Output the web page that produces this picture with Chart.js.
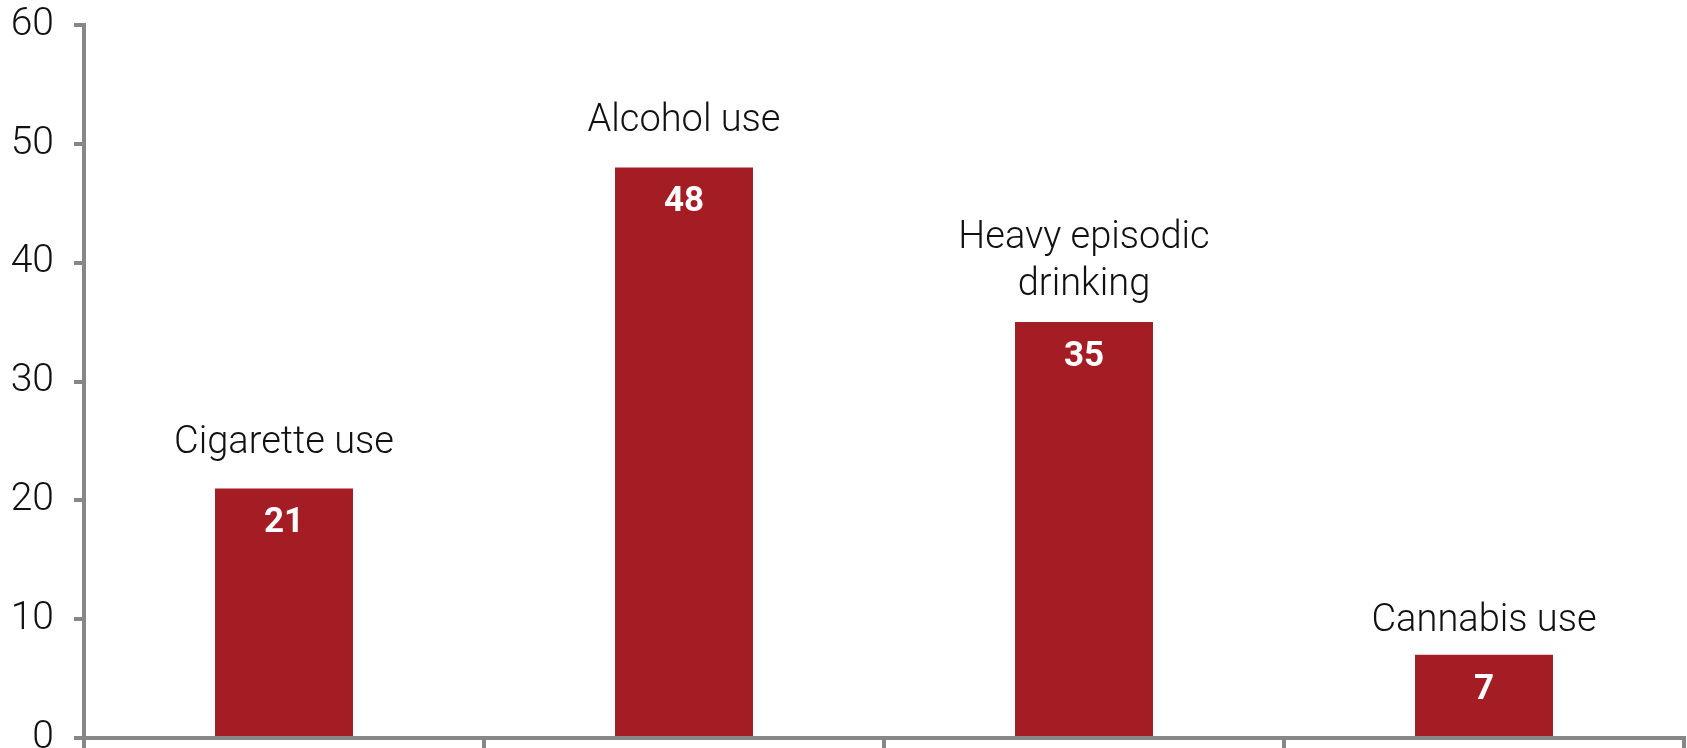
<!DOCTYPE html>
<html>
<head>
<meta charset="utf-8">
<script src="https://cdn.jsdelivr.net/npm/chart.js@4"></script>
<style>
	html, body { margin: 0; padding: 0; background: #fff; overflow: hidden; }
	.chart-wrapper { width: 1687px; height: 748px; }
</style>
</head>
<body>
<div class="chart-wrapper">
	<canvas id="chart"></canvas>
</div>
<script>
const categories = ["Cigarette use", "Alcohol use", ["Heavy episodic", "drinking"], "Cannabis use"];
const shares = [21, 48, 35, 7];
const yTicks = [0, 10, 20, 30, 40, 50, 60];

const barColor = "#a51d24";
const axisColor = "#878787";

// name above each bar, value in white near the top of the bar
const barLabels = {
	id: "barLabels",
	afterDatasetsDraw(chart, args, opts) {
		const ctx = chart.ctx;
		const meta = chart.getDatasetMeta(0);
		meta.data.forEach((bar, i) => {
			const name = [].concat(categories[i]);
			ctx.save();
			ctx.textAlign = "center";
			ctx.textBaseline = "alphabetic";
			ctx.fillStyle = "#111";
			ctx.font = "300 38px Roboto";
			let base = bar.y - opts.gaps[i];
			for (let l = name.length - 1; l >= 0; l--) {
				ctx.fillText(name[l], bar.x, base);
				base -= 47;
			}
			ctx.fillStyle = "#fff";
			ctx.font = "bold 35px Roboto";
			ctx.textBaseline = "middle";
			ctx.fillText(shares[i], bar.x, bar.y + 35);
			ctx.restore();
		});
	},
};

const ctx = document.getElementById("chart").getContext("2d");
const myChart = new Chart(ctx, {
	type: "bar",
	data: {
		labels: categories,
		datasets: [
			{
				data: shares,
				backgroundColor: barColor,
				borderWidth: 0,
				barPercentage: 0.345,
				categoryPercentage: 1,
			},
		],
	},
	options: {
		responsive: true,
		maintainAspectRatio: false,
		animation: false,
		layout: { padding: { top: 25, left: 0, right: 3 } },
		plugins: {
			legend: { display: false },
			tooltip: { enabled: false },
			barLabels: { gaps: [35, 37, 27, 24] },
		},
		scales: {
			x: {
				ticks: { display: false },
				grid: {
					offset: true,
					drawOnChartArea: false,
					drawTicks: true,
					tickLength: 10,
					color: axisColor,
					lineWidth: 4,
				},
				border: { display: true, color: axisColor, width: 4 },
			},
			y: {
				min: 0,
				max: 60,
				afterBuildTicks: (scale) => {
					scale.ticks = yTicks.map((v) => ({ value: v }));
				},
				// labels at 0 and 60 may run past the canvas edge
				afterFit: (scale) => {
					scale.width = 84;
					scale.paddingTop = 0;
					scale.paddingBottom = 0;
				},
				ticks: {
					color: "#111",
					padding: 20,
					font: { family: "Roboto", size: 39, weight: "300" },
				},
				grid: {
					drawOnChartArea: false,
					drawTicks: true,
					tickLength: 10,
					color: axisColor,
					lineWidth: 4,
				},
				border: { display: true, color: axisColor, width: 4 },
			},
		},
	},
	plugins: [barLabels],
});
</script>
</body>
</html>
